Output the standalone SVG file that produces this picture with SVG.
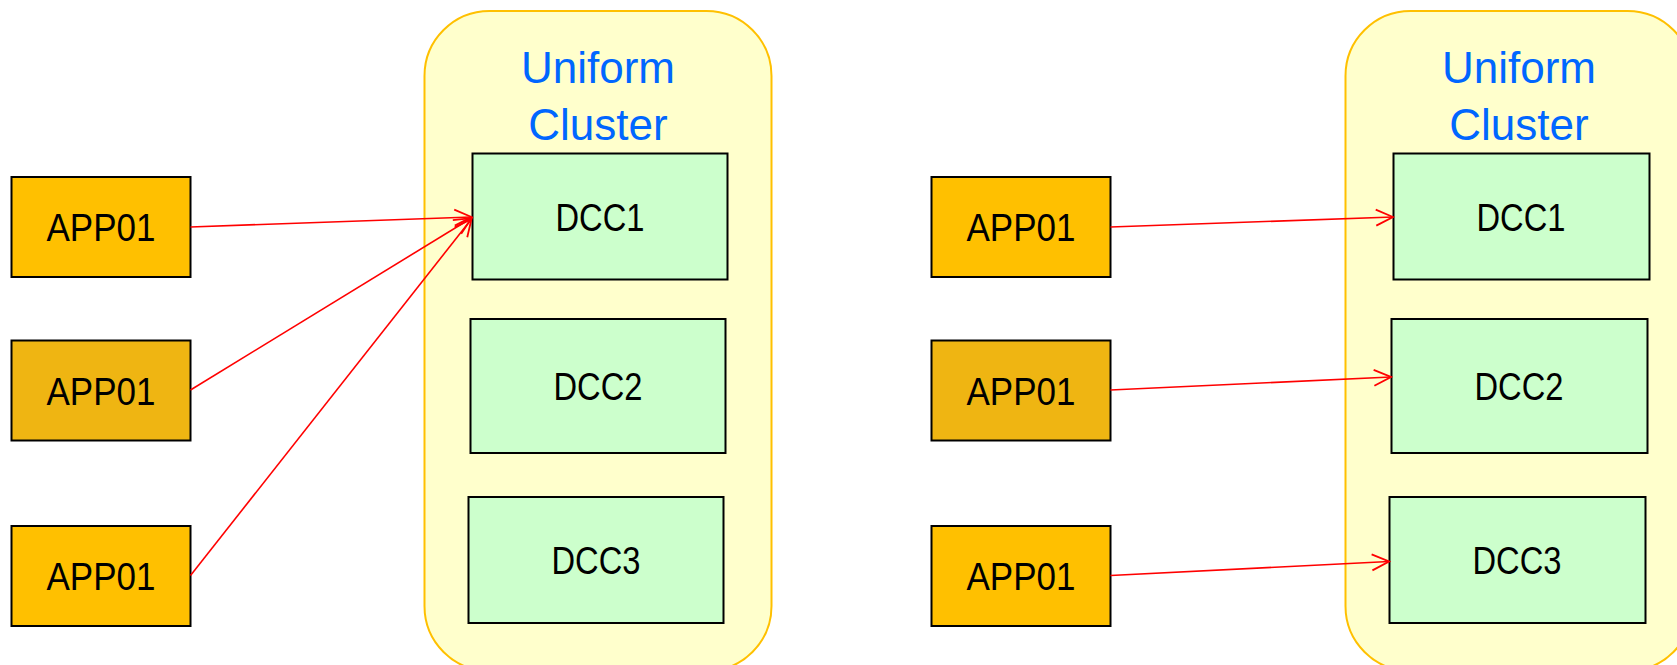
<svg xmlns="http://www.w3.org/2000/svg" width="1677" height="665" viewBox="0 0 1677 665">
<style>
.cluster{fill:#FFFFCC;stroke:#FFC000;stroke-width:2}
.dcc{fill:#CCFFCC;stroke:#000;stroke-width:2}
.app{fill:#FFC000;stroke:#000;stroke-width:2}
.app2{fill:#EFB512;stroke:#000;stroke-width:2}
.t{font-family:"Liberation Sans",Arial,sans-serif;font-size:39px;fill:#000;text-anchor:middle}
.ct{font-family:"Liberation Sans",Arial,sans-serif;font-size:44px;fill:#0066FF;text-anchor:middle}
.conn{stroke:#FF0000;stroke-width:1.6;fill:none;marker-end:url(#arr)}
</style>
<defs>
<marker id="arr" viewBox="-20 -10 22 20" markerWidth="22" markerHeight="20" refX="0" refY="0" orient="auto" markerUnits="userSpaceOnUse">
<path d="M-17,-8 L0,0 L-17,8" fill="none" stroke="#FF0000" stroke-width="1.8"/>
</marker>
</defs>
<rect width="1677" height="665" fill="#FFFFFF"/>
<g id="clusterL">
<rect class="cluster" x="424.5" y="11" width="347" height="660" rx="65" ry="65"/>
<text class="ct" x="598" y="83">Uniform</text>
<text class="ct" x="598" y="140">Cluster</text>
</g>
<g id="clusterR">
<rect class="cluster" x="1345.5" y="11" width="347" height="660" rx="65" ry="65"/>
<text class="ct" x="1519" y="83">Uniform</text>
<text class="ct" x="1519" y="140">Cluster</text>
</g>
<g id="dcc1L"><rect class="dcc" x="472.5" y="153.5" width="255" height="126"/><text class="t" x="600" y="231" textLength="89" lengthAdjust="spacingAndGlyphs">DCC1</text></g>
<g id="dcc2L"><rect class="dcc" x="470.5" y="319" width="255" height="134"/><text class="t" x="598" y="400" textLength="89" lengthAdjust="spacingAndGlyphs">DCC2</text></g>
<g id="dcc3L"><rect class="dcc" x="468.5" y="497" width="255" height="126"/><text class="t" x="596" y="574" textLength="89" lengthAdjust="spacingAndGlyphs">DCC3</text></g>
<g id="dcc1R"><rect class="dcc" x="1393.5" y="153.5" width="256" height="126"/><text class="t" x="1521" y="231" textLength="89" lengthAdjust="spacingAndGlyphs">DCC1</text></g>
<g id="dcc2R"><rect class="dcc" x="1391.5" y="319" width="256" height="134"/><text class="t" x="1519" y="400" textLength="89" lengthAdjust="spacingAndGlyphs">DCC2</text></g>
<g id="dcc3R"><rect class="dcc" x="1389.5" y="497" width="256" height="126"/><text class="t" x="1517" y="574" textLength="89" lengthAdjust="spacingAndGlyphs">DCC3</text></g>
<g id="app1L"><rect class="app" x="11.5" y="177" width="179" height="100"/><text class="t" x="101" y="241" textLength="109" lengthAdjust="spacingAndGlyphs">APP01</text></g>
<g id="app2L"><rect class="app2" x="11.5" y="340.5" width="179" height="100"/><text class="t" x="101" y="405" textLength="109" lengthAdjust="spacingAndGlyphs">APP01</text></g>
<g id="app3L"><rect class="app" x="11.5" y="526" width="179" height="100"/><text class="t" x="101" y="590" textLength="109" lengthAdjust="spacingAndGlyphs">APP01</text></g>
<g id="app1R"><rect class="app" x="931.5" y="177" width="179" height="100"/><text class="t" x="1021" y="241" textLength="109" lengthAdjust="spacingAndGlyphs">APP01</text></g>
<g id="app2R"><rect class="app2" x="931.5" y="340.5" width="179" height="100"/><text class="t" x="1021" y="405" textLength="109" lengthAdjust="spacingAndGlyphs">APP01</text></g>
<g id="app3R"><rect class="app" x="931.5" y="526" width="179" height="100"/><text class="t" x="1021" y="590" textLength="109" lengthAdjust="spacingAndGlyphs">APP01</text></g>
<g id="connectors">
<line class="conn" x1="190.5" y1="227" x2="471.5" y2="217"/>
<line class="conn" x1="190.5" y1="390" x2="471.5" y2="218"/>
<line class="conn" x1="190.5" y1="575.5" x2="471.5" y2="219"/>
<line class="conn" x1="1110.5" y1="227" x2="1393" y2="217"/>
<line class="conn" x1="1110.5" y1="390" x2="1391" y2="377"/>
<line class="conn" x1="1110.5" y1="575.5" x2="1389" y2="561.5"/>
</g>
</svg>
